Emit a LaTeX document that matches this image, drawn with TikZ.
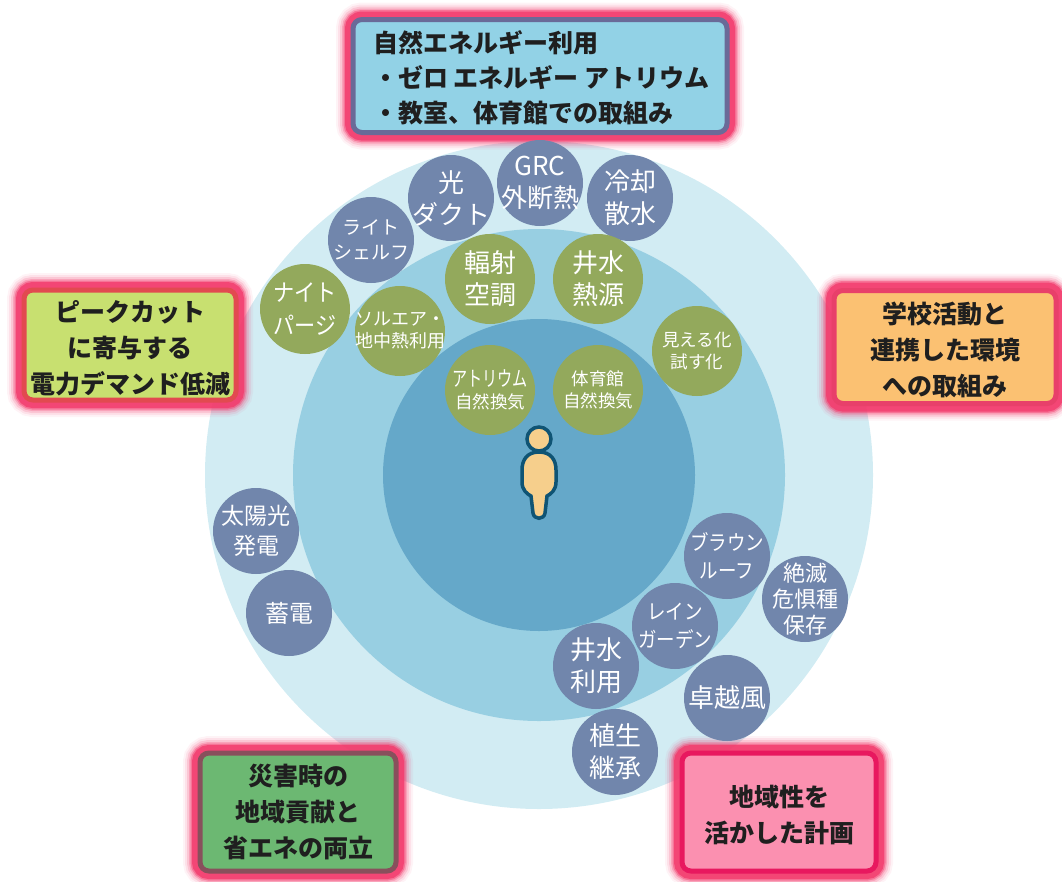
\documentclass[tikz,border=0pt]{standalone}
\usepackage{fontspec}
\setmainfont{Noto Sans CJK JP}
\newfontfamily\condA[FakeStretch=0.88]{Noto Sans CJK JP}
\newfontfamily\condB[FakeStretch=0.72]{Noto Sans CJK JP}
\definecolor{ringa}{HTML}{D2ECF3}
\definecolor{ringb}{HTML}{98CFE2}
\definecolor{ringc}{HTML}{65A8C9}
\definecolor{bluec}{HTML}{7186AC}
\definecolor{greenc}{HTML}{93A95C}
\definecolor{glowc}{HTML}{F23A6C}
\definecolor{skin}{HTML}{F6CF8C}
\definecolor{skinline}{HTML}{0F5474}
\definecolor{topfill}{HTML}{92D2E6}
\definecolor{topline}{HTML}{6A6A98}
\definecolor{leftfill}{HTML}{C8E070}
\definecolor{leftline}{HTML}{E24A50}
\definecolor{rightfill}{HTML}{FBC172}
\definecolor{rightline}{HTML}{E8406A}
\definecolor{dlfill}{HTML}{6CB872}
\definecolor{dlline}{HTML}{88505C}
\definecolor{drfill}{HTML}{FB90B0}
\definecolor{drline}{HTML}{E8185F}
\tikzset{
  ring/.style={circle,minimum size=#1,inner sep=0pt},
  bluedisc/.style={circle,minimum size=86pt,inner sep=0pt,fill=bluec},
  greendisc/.style={circle,minimum size=90pt,inner sep=0pt,fill=greenc},
  dt/.style={text=white,align=center,inner sep=0pt,font=\fontsize{26}{32}\selectfont},
  dtmid/.style={dt,font=\fontsize{23}{30}\selectfont},
  dtrare/.style={dt,font=\fontsize{22}{26}\selectfont},
  dtsm/.style={dt,font=\fontsize{19}{25}\selectfont},
  dtcond/.style={dt,font=\condA\fontsize{21}{28}\selectfont},
  glowbox/.style={rectangle,rounded corners=9pt,inner sep=0pt,align=center,text=black!88,
    font=\bfseries\fontsize{25}{36}\selectfont,
    preaction={draw=glowc,line width=34pt,opacity=.06},
    preaction={draw=glowc,line width=30pt,opacity=.10},
    preaction={draw=glowc,line width=26pt,opacity=.16},
    preaction={draw=glowc,line width=22pt,opacity=.25},
    preaction={draw=glowc,line width=19pt,opacity=.45},
    preaction={draw=glowc,line width=16pt,opacity=.8},
    line width=5pt}
}
\newcommand{\dsc}[5]{\node[#1,label={[#2]center:{#5}}] (#3) at (#4) {};}
\newcommand{\lift}{\rule{0pt}{28pt}}
\begin{document}
\begin{tikzpicture}[x=1pt,y=-1pt]
\useasboundingbox (0,0) rectangle (1062,881);
% rings
\node[ring=668pt,fill=ringa] (outer) at (539,475) {};
\node[ring=492pt,fill=ringb] (middle) at (539,475) {};
\node[ring=312pt,fill=ringc] (inner) at (539,475) {};
% boxes
\node[glowbox,draw=topline,fill=topfill,minimum width=374pt,minimum height=113pt] (b0) at (540,76) {};
\node[anchor=west,inner sep=0pt,align=left,font=\bfseries\fontsize{25}{35}\selectfont,text=black!88] (b0t) at (373,78) {自然エネルギー利用\\・ゼロ エネルギー アトリウム\\・教室、体育館での取組み};
\node[glowbox,draw=leftline,fill=leftfill,minimum width=212pt,minimum height=110pt] (b1) at (130,345) {\lift ピークカット\\に寄与する\\電力デマンド低減};
\node[glowbox,draw=rightline,fill=rightfill,minimum width=222pt,minimum height=113pt] (b2) at (945,347) {\lift 学校活動と\\連携した環境\\への取組み};
\node[glowbox,draw=dlline,fill=dlfill,minimum width=196pt,minimum height=118pt] (b3) at (298,812) {災害時の\\地域貢献と\\省エネの両立};
\node[glowbox,draw=drline,fill=drfill,minimum width=194pt,minimum height=118pt] (b4) at (779,812) {\lift 地域性を\\活かした計画};
% blue discs
\dsc{bluedisc}{dt}{grc}{540,183}{GRC\\外断熱}
\dsc{bluedisc}{dt}{cool}{630,198}{冷却\\散水}
\dsc{bluedisc}{dt}{duct}{451,198}{光\\ダクト}
\dsc{bluedisc}{dtsm}{shelf}{371,240}{ライト\\シェルフ}
\dsc{bluedisc}{dtcond}{brown}{727,556}{ブラウン\\ルーフ}
\dsc{bluedisc}{dtrare}{rare}{805,599}{絶滅\\危惧種\\保存}
\dsc{bluedisc}{dtcond}{rain}{675,626}{レイン\\ガーデン}
\dsc{bluedisc}{dt}{well}{596,666}{井水\\利用}
\dsc{bluedisc}{dt}{wind}{727,698}{卓越風}
\dsc{bluedisc}{dt}{veg}{615,752}{植生\\継承}
\dsc{bluedisc}{dtmid}{solar}{256,531}{太陽光\\発電}
\dsc{bluedisc}{dt,font=\fontsize{24}{30}\selectfont}{store}{289,613}{蓄電}
% green discs
\dsc{greendisc}{dt,font=\condA\fontsize{24}{33}\selectfont}{night}{305,309}{ナイト\\パージ}
\dsc{greendisc}{dt,font=\fontsize{18}{22}\selectfont}{solair}{400,331}{ソルエア・\\地中熱利用}
\dsc{greendisc}{dt}{rad}{490,279}{輻射\\空調}
\dsc{greendisc}{dt}{src}{598,279}{井水\\熱源}
\dsc{greendisc}{dt,font=\fontsize{17.5}{22}\selectfont}{vis}{697,351}{見える化\\試す化}
\dsc{greendisc}{dt,font=\fontsize{17.5}{22}\selectfont}{atr}{490,390}{{\condB\fontsize{21}{22}\selectfont アトリウム}\\自然換気}
\dsc{greendisc}{dt,font=\fontsize{17.5}{22}\selectfont}{gym}{598,390}{体育館\\自然換気}
% person
\draw[fill=skin,draw=skinline,line width=3.5pt]
  (539,452) .. controls (527,452) and (522,460) .. (522,470)
  -- (522,482) .. controls (522,490) and (527,494) .. (531,496)
  -- (533,513) .. controls (534,520) and (544,520) .. (545,513)
  -- (547,496) .. controls (551,494) and (556,490) .. (556,482)
  -- (556,470) .. controls (556,460) and (551,452) .. (539,452) -- cycle;
\node[circle,fill=skin,draw=skinline,line width=3.5pt,minimum size=24pt,inner sep=0pt] (head) at (539,439) {};
\end{tikzpicture}
\end{document}
